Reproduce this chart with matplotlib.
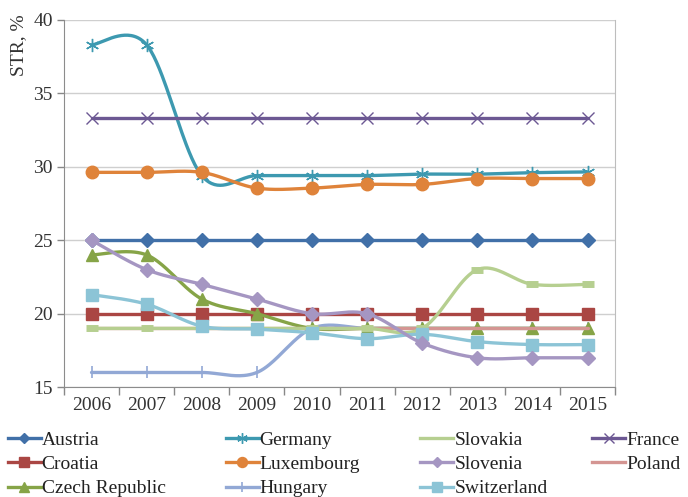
import numpy as np
import matplotlib
matplotlib.use("Agg")
import matplotlib.pyplot as plt
from matplotlib.lines import Line2D

# Data (STR, %)
years = ["2006", "2007", "2008", "2009", "2010", "2011", "2012", "2013", "2014", "2015"]

austria = [25, 25, 25, 25, 25, 25, 25, 25, 25, 25]
croatia = [20, 20, 20, 20, 20, 20, 20, 20, 20, 20]
czech = [24, 24, 21, 20, 19, 19, 19, 19, 19, 19]
germany = [38.3, 38.3, 29.4, 29.4, 29.4, 29.4, 29.5, 29.5, 29.6, 29.65]
luxembourg = [29.62, 29.62, 29.62, 28.55, 28.55, 28.8, 28.8, 29.2, 29.2, 29.2]
hungary = [16, 16, 16, 16, 19, 19, 19, 19, 19, 19]
slovakia = [19, 19, 19, 19, 19, 19, 19, 23, 22, 22]
slovenia = [25, 23, 22, 21, 20, 20, 18, 17, 17, 17]
switzerland = [21.3, 20.65, 19.15, 18.95, 18.7, 18.3, 18.6, 18.1, 17.9, 17.9]
france = [33.3, 33.3, 33.3, 33.3, 33.3, 33.3, 33.3, 33.3, 33.3, 33.3]
poland = [19, 19, 19, 19, 19, 19, 19, 19, 19, 19]

# name, values, color, marker, marker size, zorder
series = [
    ("Austria", austria, "#4170A8", "D", 7, 4),
    ("Croatia", croatia, "#AA4643", "s", 8.5, 3),
    ("Czech Republic", czech, "#86A447", "^", 8.5, 5),
    ("Germany", germany, "#3D99B0", (6, 2, 0), 9.5, 8),
    ("Luxembourg", luxembourg, "#DF833A", "o", 9, 9),
    ("Hungary", hungary, "#92A8D5", "|", 9, 4),
    ("Slovakia", slovakia, "#B6CF90", "_", 8, 6),
    ("Slovenia", slovenia, "#A596C2", "D", 7, 10),
    ("Switzerland", switzerland, "#8CC4D6", "s", 8.5, 7),
    ("France", france, "#6C5893", "x", 8.5, 11),
    ("Poland", poland, "#D49592", "None", 0, 5.5),
]


def smooth(y, n=40):
    # Excel-style smoothed line (Bezier through the points)
    pts = np.column_stack([np.arange(len(y)), np.asarray(y, float)])
    xs, ys = [], []
    for i in range(len(pts) - 1):
        p0 = pts[max(i - 1, 0)]
        p1 = pts[i]
        p2 = pts[i + 1]
        p3 = pts[min(i + 2, len(pts) - 1)]
        c1 = p1 + (p2 - p0) / 6
        c2 = p2 - (p3 - p1) / 6
        t = np.linspace(0, 1, n)[:, None]
        b = (1 - t) ** 3 * p1 + 3 * (1 - t) ** 2 * t * c1 + 3 * (1 - t) * t ** 2 * c2 + t ** 3 * p2
        xs.extend(b[:, 0])
        ys.extend(b[:, 1])
    return np.array(xs), np.array(ys)


plt.rcParams["font.family"] = "Liberation Serif"
fs = 14

fig = plt.figure(figsize=(6.88, 4.97), dpi=100)
ax = fig.add_axes([0.093, 0.221, 0.801, 0.739])

x = np.arange(len(years))
handles = {}
for name, vals, color, marker, ms, z in series:
    sx, sy = smooth(vals)
    ax.plot(sx, sy, color=color, lw=2.4, zorder=z, solid_capstyle="round")
    mew = 1.0
    if marker == "_":
        mew = 5
    elif marker == "|":
        mew = 1.2
    if marker != "None":
        ax.plot(x, vals, ls="none", marker=marker, ms=ms, color=color, mec=color,
                mew=mew, zorder=z + 0.1)
    handles[name] = Line2D([], [], color=color, lw=2.4,
                           marker=marker if marker != "_" else "None",
                           ms=ms * 0.8, mew=mew, mec=color)

ax.set_xlim(-0.5, 9.5)
ax.set_ylim(15, 40)
ax.set_yticks([15, 20, 25, 30, 35, 40])
ax.set_xticks(x)
ax.set_xticklabels(years)
ax.set_xticks(np.arange(-0.5, 10, 1), minor=True)
ax.tick_params(axis="x", which="major", length=0, pad=7, labelsize=fs, labelcolor="#333333")
ax.tick_params(axis="x", which="minor", length=6, color="#888888", width=1)
ax.tick_params(axis="y", length=5, color="#888888", width=1, labelsize=fs, labelcolor="#333333", pad=3)

ax.grid(axis="y", color="#cfcfcf", lw=1, zorder=0)
ax.set_axisbelow(True)
for s in ["left", "bottom"]:
    ax.spines[s].set_color("#8c8c8c")
ax.spines["right"].set_color("#bdbdbd")
ax.spines["top"].set_visible(False)

fig.text(0.027, 0.972, "STR, %", rotation=90, va="top", ha="center", fontsize=fs, color="#333333")

# legend in four columns
cols = [
    (["Austria", "Croatia", "Czech Republic"], 0.011),
    (["Germany", "Luxembourg", "Hungary"], 0.328),
    (["Slovakia", "Slovenia", "Switzerland"], 0.611),
    (["France", "Poland"], 0.861),
]
for names, xpos in cols:
    fig.legend([handles[n] for n in names], names, loc="upper left",
               bbox_to_anchor=(xpos, 0.133), frameon=False, fontsize=fs,
               handlelength=1.7, handletextpad=0.05, labelspacing=0.35,
               borderpad=0, borderaxespad=0, labelcolor="#222222")

fig.savefig("out.png", dpi=100)
